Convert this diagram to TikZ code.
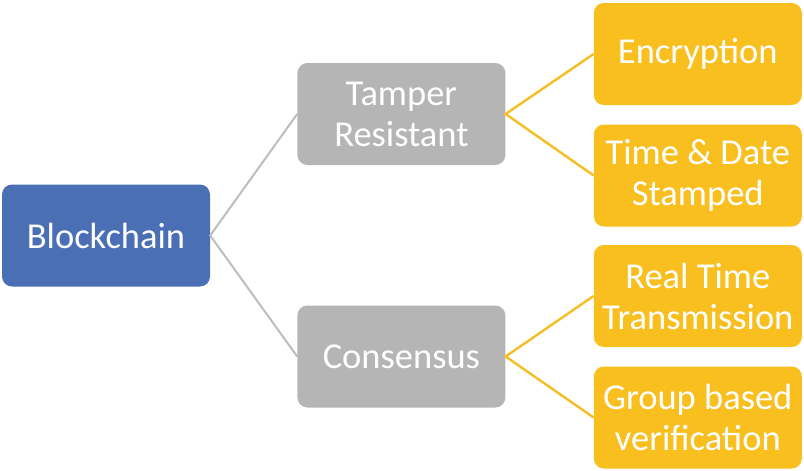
\documentclass[tikz,border=0pt]{standalone}
\usepackage{fontspec}
\setmainfont{Carlito}
\usetikzlibrary{positioning}
\definecolor{rootfill}{HTML}{4A6FB5}
\definecolor{midfill}{HTML}{B5B5B5}
\definecolor{leaffill}{HTML}{F8BF1F}
\definecolor{midline}{HTML}{BDBDBD}
\definecolor{leafline}{HTML}{F5BE22}

\begin{document}
\begin{tikzpicture}[
  x=1pt,y=1pt,
  font=\fontsize{36.5}{41}\selectfont,
  box/.style={rounded corners=10pt, text=white, align=center, minimum width=208pt, minimum height=102pt, inner sep=2pt},
  root/.style={box, fill=rootfill},
  mid/.style={box, fill=midfill},
  leaf/.style={box, fill=leaffill},
]
\useasboundingbox (0,0) rectangle (804,-471);
% root on the left
\node[root] (bc) at (106,-235.5) {Blockchain};
% two properties in the middle
\node[mid, right=87pt of bc, yshift=121.5pt] (tamp) {Tamper\\Resistant};
\node[mid, right=87pt of bc, yshift=-121pt] (cons) {Consensus};
% four features on the right
\node[leaf, right=88pt of tamp, yshift=60pt] (enc) {Encryption};
\node[leaf, right=88pt of tamp, yshift=-61.5pt] (stamp) {Time \& Date\\Stamped};
\node[leaf, right=88pt of cons, yshift=60.5pt] (trans) {Real Time\\Transmission};
\node[leaf, right=88pt of cons, yshift=-61pt] (verif) {Group based\\verification};
% root -> properties
\draw[midline, line width=2pt] (tamp.west) -- (bc.east) -- (cons.west);
% properties -> features
\draw[leafline, line width=2.4pt] (enc.west) -- (tamp.east) -- (stamp.west);
\draw[leafline, line width=2.4pt] (trans.west) -- (cons.east) -- (verif.west);
\end{tikzpicture}
\end{document}
